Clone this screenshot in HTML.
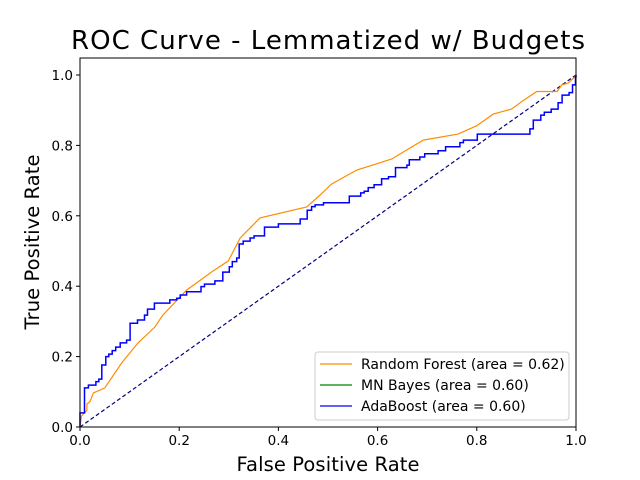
<!DOCTYPE html>
<html><head><meta charset="utf-8"><style>
body{margin:0;background:#fff;}
svg{display:block;font-family:"DejaVu Sans","Liberation Sans",sans-serif;}
</style></head><body>
<svg id="chart" width="640" height="480" viewBox="0 0 640 480" xmlns="http://www.w3.org/2000/svg">
<rect width="640" height="480" fill="#fff"/>
<text x="328" y="49" font-size="26" text-anchor="middle" textLength="514">ROC Curve - Lemmatized w/ Budgets</text>
<g id="plot"></g>
<text x="328" y="471" font-size="19.5" text-anchor="middle" textLength="183">False Positive Rate</text>
<text transform="translate(39,242) rotate(-90)" font-size="19.5" text-anchor="middle" textLength="175">True Positive Rate</text>
</svg>
<script>
const xTicks=[0,0.2,0.4,0.6,0.8,1.0];
const yTicks=[0,0.2,0.4,0.6,0.8,1.0];
const tickLabels=["0.0","0.2","0.4","0.6","0.8","1.0"];
const rfFpr=[0,.003,.014,.014,.020,.027,.050,.084,.117,.151,.167,.215,.266,.299,.323,.363,.457,.484,.507,.558,.628,.692,.762,.800,.833,.870,.893,.921,.962,.971,.984,.998,1];
const rfTpr=[0,.031,.048,.065,.072,.097,.111,.182,.239,.284,.318,.389,.441,.472,.537,.594,.625,.659,.690,.730,.761,.815,.832,.856,.889,.903,.927,.953,.953,.972,.977,.995,1];
const adaFpr=[0,0,.009,.017,.032,.038,.044,.052,.058,.065,.072,.081,.094,.101,.116,.130,.136,.150,.181,.195,.202,.215,.244,.251,.272,.288,.301,.307,.316,.321,.329,.343,.351,.372,.400,.444,.458,.467,.474,.491,.543,.566,.573,.581,.593,.608,.622,.636,.659,.664,.685,.695,.722,.737,.766,.773,.801,.907,.914,.929,.936,.950,.964,.972,.986,.993,.999,1];
const adaTpr=[0,.040,.111,.119,.129,.136,.176,.200,.207,.217,.227,.239,.247,.295,.304,.318,.335,.352,.361,.366,.375,.384,.399,.406,.415,.440,.455,.470,.480,.520,.528,.537,.543,.568,.577,.591,.616,.626,.631,.637,.656,.665,.670,.680,.688,.705,.711,.737,.744,.759,.767,.776,.785,.796,.808,.815,.832,.847,.872,.886,.894,.903,.921,.943,.950,.972,.995,1];
const legendLabels=["Random Forest (area = 0.62)","MN Bayes (area = 0.60)","AdaBoost (area = 0.60)"];
const legendColors=["#ff8c00","#008000","#0000ff"];

const NS="http://www.w3.org/2000/svg";
const L=80,R=576,T=58,B=427;
const sx=v=>L+v*(R-L);
const sy=v=>B-v*(B-75)/1.0;
const g=document.getElementById('plot');
function mk(t,a){const e=document.createElementNS(NS,t);for(const k in a)e.setAttribute(k,a[k]);g.appendChild(e);return e;}

let d=mk('line',{x1:sx(0),y1:sy(0),x2:sx(1),y2:sy(1),stroke:'#000080','stroke-width':1.2,'stroke-dasharray':'4,2.5'});



let p=rfFpr.map((x,i)=>(i?'L':'M')+sx(x).toFixed(1)+','+sy(rfTpr[i]).toFixed(1)).join('');
let rf=mk('path',{d:p,fill:'none',stroke:'#ff8c00','stroke-width':1.2});



let q='M'+sx(adaFpr[0])+','+sy(adaTpr[0]);
for(let i=1;i<adaFpr.length;i++){q+='L'+sx(adaFpr[i]).toFixed(1)+','+sy(adaTpr[i-1]).toFixed(1)+'L'+sx(adaFpr[i]).toFixed(1)+','+sy(adaTpr[i]).toFixed(1);}
let ab=mk('path',{d:q,fill:'none',stroke:'#0000ff','stroke-width':1.5});



let fr=mk('rect',{x:L,y:T,width:R-L,height:B-T,fill:'none',stroke:'#000','stroke-width':1});



xTicks.forEach((v,i)=>{
  const t=mk('line',{x1:sx(v),x2:sx(v),y1:B,y2:B+4,stroke:'#000'});
  
  
  const tx=mk('text',{x:sx(v),y:B+18,'font-size':13.5,'text-anchor':'middle'});
  tx.textContent=tickLabels[i];
  
  
});
yTicks.forEach((v,i)=>{
  const t=mk('line',{x1:L-4,x2:L,y1:sy(v),y2:sy(v),stroke:'#000'});
  
  
  const tx=mk('text',{x:L-7,y:sy(v)+5,'font-size':13.5,'text-anchor':'end'});
  tx.textContent=tickLabels[i];
  
  
});

let lb=mk('rect',{x:315,y:352,width:254,height:68,rx:3,fill:'#fff','fill-opacity':0.8,stroke:'#ccc'});


legendLabels.forEach((s,i)=>{
  const y=364+i*21;
  const ln=mk('line',{x1:320,x2:352,y1:y,y2:y,stroke:legendColors[i],'stroke-width':1.3});
  
  
  const tx=mk('text',{x:361,y:y+5,'font-size':14});
  tx.textContent=s;
  
  
});
</script>
</body></html>
